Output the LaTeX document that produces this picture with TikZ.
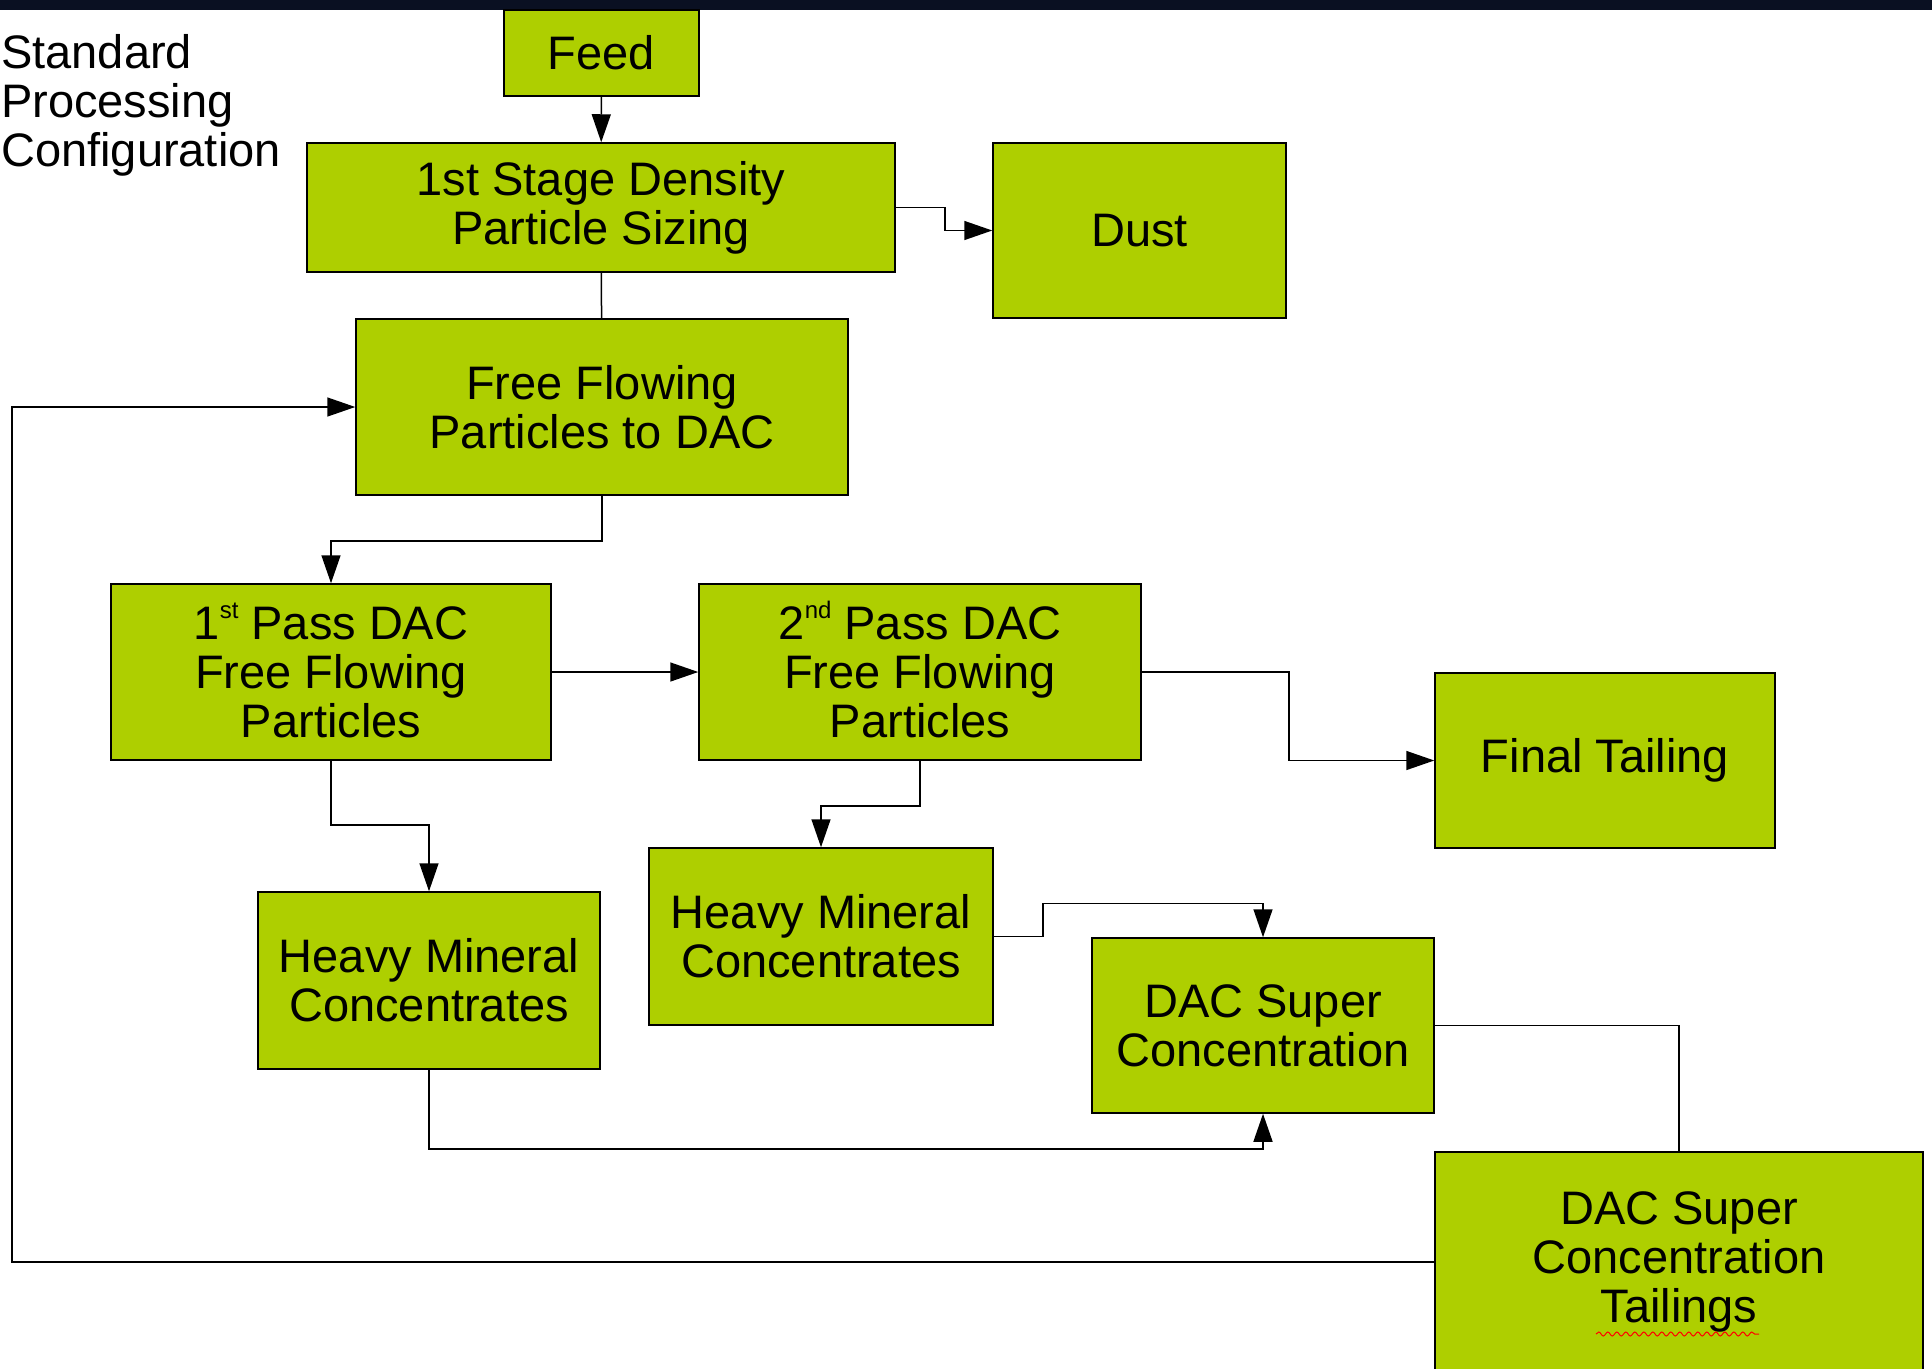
\documentclass[tikz,border=0pt]{standalone}
\usepackage{fontspec}
\setmainfont{Liberation Sans}
\usepackage{xcolor}
\definecolor{verde}{RGB}{174, 207, 0}
\definecolor{banda}{RGB}{10, 16, 34}
\usepackage{tikz}
\usetikzlibrary{arrows.meta,calc,positioning,decorations.pathmorphing}
\tikzstyle{box}   =[rectangle, draw, fill=verde, line width=1.5pt,
                    inner sep=0pt, align=center,
                    font=\fontsize{47}{49}\selectfont]
\tikzstyle{edge}  =[line width=1.5pt,
                    -{Triangle[length=28pt,width=19pt]}]
\tikzstyle{link}  =[line width=1.5pt]
\newcommand{\ordsup}[1]{\smash{\raisebox{0.45em}{\fontsize{24}{24}\selectfont #1}}}

\begin{document}
\begin{tikzpicture}[x=1pt,y=-1pt]
    \useasboundingbox (0,0) rectangle (1932,1368);
    \fill[banda] (0,0) rectangle (1932,10);

    \node (title) [anchor=north west, align=left, inner sep=0pt,
        font=\fontsize{47}{49}\selectfont] at (1,34)
        {Standard\\Processing\\Configuration};

    \draw (601.5,53) node (feed) [box, minimum width=195, minimum height=86] {Feed};
    \draw (601,207.5) node (stage1) [box, minimum width=588, minimum height=129] {1st Stage Density\\Particle Sizing};
    \draw (1139.5,230.5) node (dust) [box, minimum width=293, minimum height=175] {Dust};
    \draw (602,407) node (ffp) [box, minimum width=492, minimum height=176] {Free Flowing\\Particles to DAC};
    \draw (331,672) node (pass1) [box, minimum width=440, minimum height=176] {1\ordsup{st} Pass DAC\\Free Flowing\\Particles};
    \draw (920,672) node (pass2) [box, minimum width=442, minimum height=176] {2\ordsup{nd} Pass DAC\\Free Flowing\\Particles};
    \draw (1605,760.5) node (final) [box, minimum width=340, minimum height=175] {Final Tailing};
    \draw (429,980.5) node (hmc1) [box, minimum width=342, minimum height=177] {Heavy Mineral\\Concentrates};
    \draw (821,936.5) node (hmc2) [box, minimum width=344, minimum height=177] {Heavy Mineral\\Concentrates};
    \draw (1263,1025.5) node (dsc) [box, minimum width=342, minimum height=175] {DAC Super\\Concentration};
    \draw (1679,1262) node (dsct) [box, minimum width=488, minimum height=220] {DAC Super\\Concentration\\Tailings};
    \draw[red, line width=1pt, decorate, decoration={snake, amplitude=2pt, segment length=9pt}]
        (1596,1334) -- (1759,1334);

    \coordinate (loopx) at (12,0);

    \foreach \i/\j in {feed/stage1,pass1/pass2}
        \draw [edge] (\i) -- (\j);
    \draw [link] (stage1) -- (ffp);
    \draw [edge] (stage1.east) -- ++(49,0) |- (dust.west);
    \draw [edge] (ffp.south) -- ++(0,45) -| (pass1.north);
    \draw [edge] (pass2.east) -- ++(147,0) |- (final.west);
    \draw [edge] (pass1.south) -- ++(0,64) -| (hmc1.north);
    \draw [edge] (pass2.south) -- ++(0,45) -| (hmc2.north);
    \draw [edge] (hmc2.east) -- ++(49,0) -- ++(0,-33) -| (dsc.north);
    \draw [edge] (hmc1.south) -- ++(0,79) -| (dsc.south);
    \draw [link] (dsc.east) -| (dsct.north);
    \draw [edge] (dsct.west) -- (dsct.west -| loopx) |- (ffp.west);
\end{tikzpicture}
\end{document}
